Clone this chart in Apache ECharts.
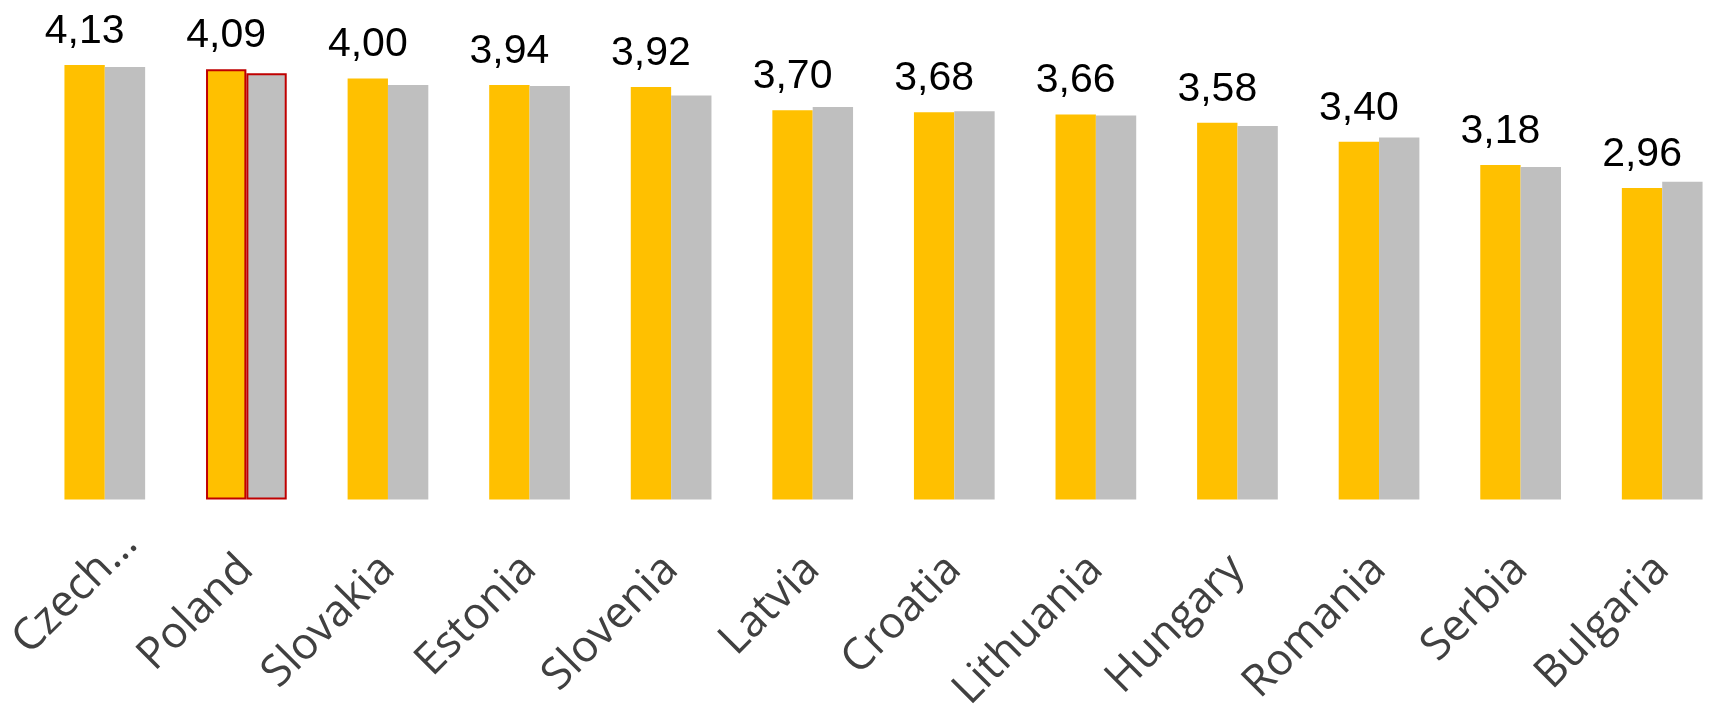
<!DOCTYPE html>
<html>
<head>
<meta charset="utf-8">
<script src="https://cdn.jsdelivr.net/npm/echarts@6/dist/echarts.min.js"></script>
<style>
html,body{margin:0;padding:0;background:#fff;}
#chart{width:1710px;height:721px;}
</style>
</head>
<body>
<div id="chart"></div>
<script>
const categories = ["Czech…","Poland","Slovakia","Estonia","Slovenia","Latvia","Croatia","Lithuania","Hungary","Romania","Serbia","Bulgaria"];
const yellowValues = [4.13,4.09,4.00,3.94,3.92,3.70,3.68,3.66,3.58,3.40,3.18,2.96];
const grayValues = [4.11,4.05,3.94,3.93,3.84,3.73,3.69,3.65,3.55,3.44,3.16,3.02];
const highlightCategory = "Poland";
const truncatedCategory = "Czech…";

const chart = echarts.init(document.getElementById('chart'), null, {renderer:'canvas'});

function mkData(vals){
  return vals.map((v,i)=> categories[i]===highlightCategory
    ? {value:v, itemStyle:{borderColor:'#C00000', borderWidth:2}}
    : v);
}

const axisData = categories.map(c => c===truncatedCategory
  ? {value:c, textStyle:{padding:[0,-36,0,0]}}
  : c);

chart.setOption({
  animation:false,
  grid:{left:34, width:1699, top:26, bottom:221.5, containLabel:false, outerBoundsMode:'none'},
  xAxis:{
    type:'category',
    data:axisData,
    axisLine:{show:false},
    axisTick:{show:false},
    axisLabel:{
      interval:0, rotate:45, margin:63,
      fontFamily:'Open Sans', fontSize:44, color:'#404040'
    }
  },
  yAxis:{type:'value', min:0, max:4.5, show:false, splitLine:{show:false}},
  series:[
    {
      type:'bar', data:mkData(yellowValues), barWidth:40.35, barGap:'0%',
      itemStyle:{color:'#FFC000'},
      label:{
        show:true, position:'top', distance:13,
        fontFamily:'Liberation Sans', fontSize:41, lineHeight:41, color:'#000',
        formatter:p=>p.value.toFixed(2).replace('.',',')
      }
    },
    {
      type:'bar', data:mkData(grayValues), barWidth:40.35, barGap:'0%',
      itemStyle:{color:'#BFBFBF'}
    }
  ]
});
</script>
</body>
</html>
